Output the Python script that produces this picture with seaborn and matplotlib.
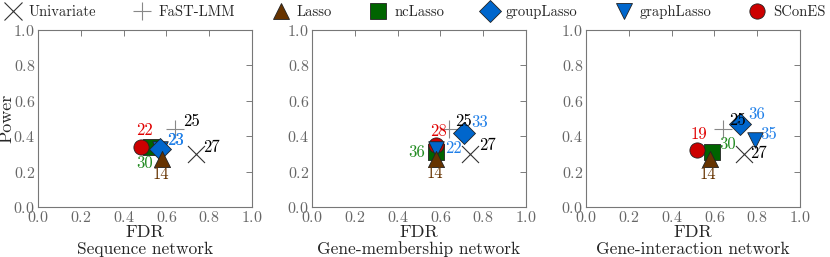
import numpy as np
import pandas as pd
import matplotlib
matplotlib.use('Agg')
import matplotlib.pyplot as plt
from matplotlib.lines import Line2D
import seaborn as sns

# Data: (FDR, Power, number of selected features) per method and network
networks = ['Sequence network', 'Gene-membership network', 'Gene-interaction network']
methods = ['Univariate', 'FaST-LMM', 'Lasso', 'ncLasso', 'groupLasso', 'graphLasso', 'SConES']

fdr_univariate = [0.74, 0.74, 0.74]
power_univariate = [0.30, 0.30, 0.30]
count_univariate = [27, 27, 27]

fdr_fastlmm = [0.64, 0.64, 0.64]
power_fastlmm = [0.44, 0.44, 0.44]
count_fastlmm = [25, 25, 25]

fdr_lasso = [0.58, 0.58, 0.58]
power_lasso = [0.27, 0.27, 0.27]
count_lasso = [14, 14, 14]

fdr_nclasso = [0.53, 0.58, 0.59]
power_nclasso = [0.34, 0.31, 0.31]
count_nclasso = [30, 36, 30]

fdr_grouplasso = [0.57, 0.71, 0.72]
power_grouplasso = [0.33, 0.42, 0.47]
count_grouplasso = [23, 33, 36]

fdr_graphlasso = [0.57, 0.58, 0.79]
power_graphlasso = [0.33, 0.33, 0.38]
count_graphlasso = [23, 22, 35]

fdr_scones = [0.48, 0.58, 0.52]
power_scones = [0.34, 0.35, 0.32]
count_scones = [22, 28, 19]

rows = []
series = {
    'Univariate': (fdr_univariate, power_univariate, count_univariate),
    'FaST-LMM': (fdr_fastlmm, power_fastlmm, count_fastlmm),
    'Lasso': (fdr_lasso, power_lasso, count_lasso),
    'ncLasso': (fdr_nclasso, power_nclasso, count_nclasso),
    'groupLasso': (fdr_grouplasso, power_grouplasso, count_grouplasso),
    'graphLasso': (fdr_graphlasso, power_graphlasso, count_graphlasso),
    'SConES': (fdr_scones, power_scones, count_scones),
}
for m, (f, p, c) in series.items():
    for i, net in enumerate(networks):
        rows.append({'network': net, 'method': m, 'FDR': f[i], 'Power': p[i], 'n': c[i]})
df = pd.DataFrame(rows)

# styles
marker_of = {'Univariate': 'x', 'FaST-LMM': '+', 'Lasso': '^', 'ncLasso': 's',
             'groupLasso': 'D', 'graphLasso': 'v', 'SConES': 'o'}
color_of = {'Univariate': '#333333', 'FaST-LMM': '#888888', 'Lasso': '#663300',
            'ncLasso': '#006400', 'groupLasso': '#0066cc', 'graphLasso': '#0066cc',
            'SConES': '#cc0000'}
label_color = {'Univariate': 'black', 'FaST-LMM': 'black', 'Lasso': '#663300',
               'ncLasso': '#228b22', 'groupLasso': '#1f7fe8', 'graphLasso': '#1f7fe8',
               'SConES': '#e00000'}
size_of = {'Univariate': 150, 'FaST-LMM': 150, 'Lasso': 135, 'ncLasso': 120,
           'groupLasso': 125, 'graphLasso': 125, 'SConES': 120}
draw_order = ['Univariate', 'FaST-LMM', 'ncLasso', 'SConES', 'graphLasso', 'groupLasso', 'Lasso']

# label offsets in pixels, per panel
offsets = [
    {'Univariate': (15, 7), 'FaST-LMM': (17, 8), 'SConES': (4, 16), 'groupLasso': (16, 8),
     'graphLasso': (16, 8), 'ncLasso': (-7, -17), 'Lasso': (-1, -15)},
    {'Univariate': (17, 9), 'FaST-LMM': (15, 8), 'groupLasso': (16, 10), 'SConES': (2, 14),
     'graphLasso': (17, 0), 'ncLasso': (-19, 0), 'Lasso': (-1, -14)},
    {'Univariate': (14, 1), 'FaST-LMM': (15, 9), 'groupLasso': (17, 9), 'SConES': (2, 16),
     'graphLasso': (14, 5), 'ncLasso': (15, 8), 'Lasso': (-2, -15)},
]

sns.set_style('white')
plt.rcParams['font.family'] = 'serif'
plt.rcParams['font.serif'] = ['cmr10', 'DejaVu Serif']
plt.rcParams['axes.formatter.use_mathtext'] = True
plt.rcParams['mathtext.fontset'] = 'cm'

fig = plt.figure(figsize=(8.3, 2.57), dpi=100)
lefts = [38 / 830, 312 / 830, 586 / 830]
axes = [fig.add_axes([l, 50 / 257, 214 / 830, 177 / 257]) for l in lefts]

for i, (ax, net) in enumerate(zip(axes, networks)):
    sub = df[df['network'] == net]
    for m in draw_order:
        d = sub[sub['method'] == m]
        if marker_of[m] in ('x', '+'):
            sns.scatterplot(data=d, x='FDR', y='Power', marker=marker_of[m], s=size_of[m],
                            color=color_of[m], linewidth=0.8, ax=ax, legend=False, zorder=3)
        else:
            sns.scatterplot(data=d, x='FDR', y='Power', marker=marker_of[m], s=size_of[m],
                            color=color_of[m], edgecolor='#222222', linewidth=0.6,
                            ax=ax, legend=False, zorder=3)
    for m in draw_order:
        d = sub[sub['method'] == m].iloc[0]
        dx, dy = offsets[i][m]
        ax.annotate(str(d['n']), (d['FDR'], d['Power']), xytext=(dx, dy),
                    textcoords='offset pixels', ha='center', va='center',
                    fontsize=12, color=label_color[m], zorder=5)
    ax.set_xlim(0, 1)
    ax.set_ylim(0, 1)
    ax.set_xticks(np.arange(0, 1.01, 0.2))
    ax.set_yticks(np.arange(0, 1.01, 0.2))
    ax.tick_params(direction='in', top=True, right=True, length=4, width=0.6,
                   colors='#666666', labelsize=11.5, pad=2)
    for sp in ax.spines.values():
        sp.set_color('#777777')
        sp.set_linewidth(0.8)
    ax.set_xlabel('FDR', fontsize=13)
    ax.xaxis.set_label_coords(0.5, -0.1)
    if i == 0:
        ax.set_ylabel('Power', fontsize=13)
        ax.yaxis.set_label_coords(-0.11, 0.5)
    else:
        ax.set_ylabel('')
    ax.text(0.5, -0.24, net, transform=ax.transAxes, ha='center', va='center', fontsize=12.5)

handles = []
for m in methods:
    if marker_of[m] in ('x', '+'):
        h = Line2D([], [], linestyle='none', marker=marker_of[m], color=color_of[m],
                   markersize=13, markeredgewidth=0.8, label=m)
    else:
        h = Line2D([], [], linestyle='none', marker=marker_of[m], markerfacecolor=color_of[m],
                   markeredgecolor='#222222', markeredgewidth=0.6, markersize=11, label=m)
    handles.append(h)
fig.legend(handles=handles, loc='center', ncol=7, frameon=False,
           bbox_to_anchor=(0.5, 1 - 12 / 257), fontsize=10.5, handletextpad=0.5,
           handlelength=1.2, columnspacing=2.55, borderaxespad=0.0, borderpad=0.0)

fig.savefig('out.png', dpi=100)
